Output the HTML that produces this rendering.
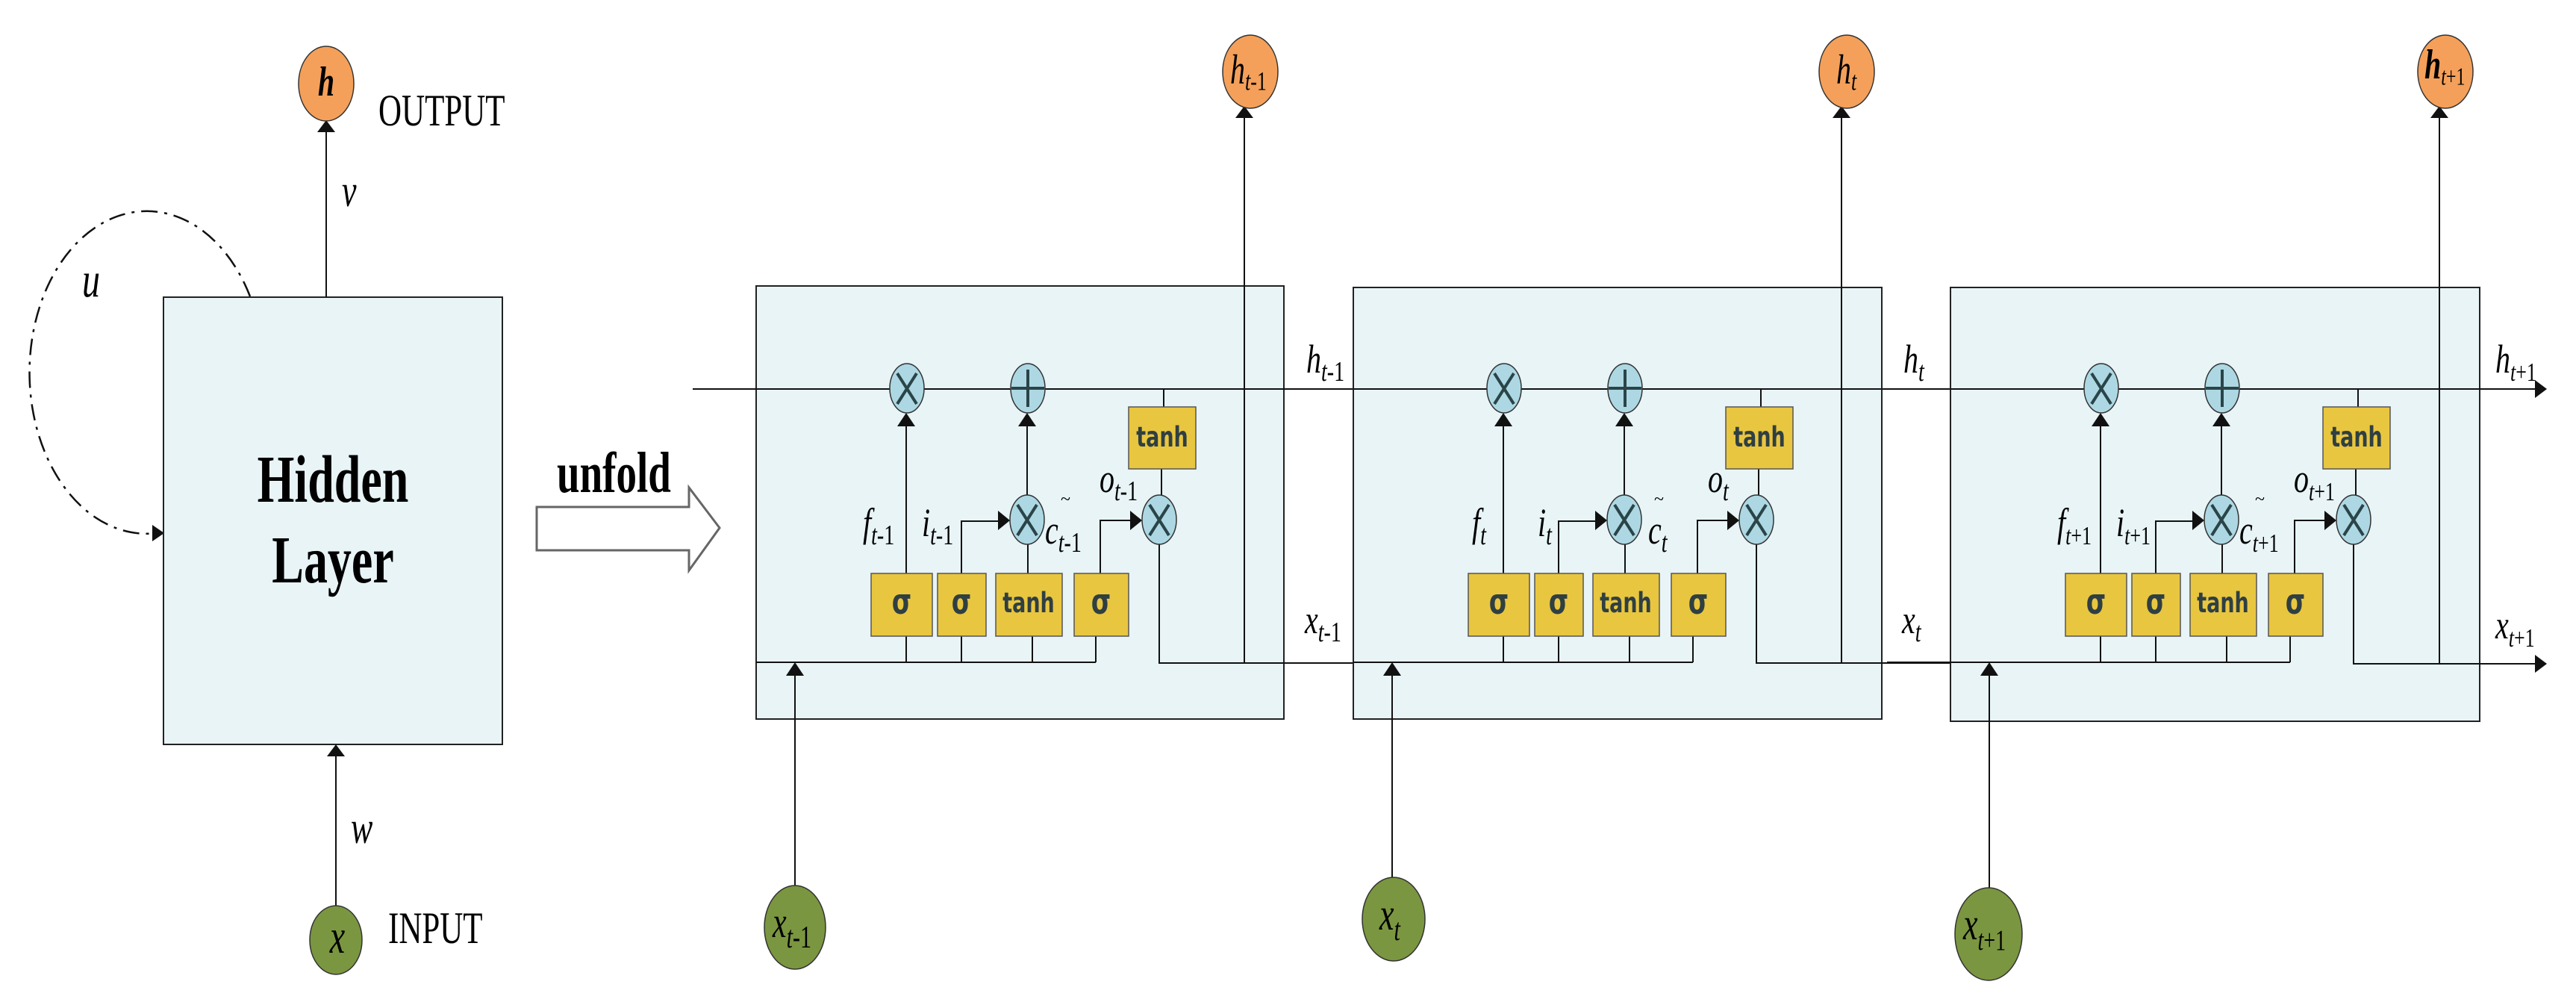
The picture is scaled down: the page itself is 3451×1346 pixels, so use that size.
<!DOCTYPE html>
<html><head><meta charset="utf-8"><style>
html,body{margin:0;padding:0;background:#fff;}
svg{display:block;}
.it{font-family:"Liberation Serif",serif;font-style:italic;}
.rm{font-family:"Liberation Serif",serif;}
.bd{font-family:"Liberation Serif",serif;font-weight:bold;}
.sg{font-family:"DejaVu Sans","Liberation Sans",sans-serif;font-weight:bold;fill:#2f3f42;}
</style></head><body>
<svg width="3451" height="1346" viewBox="0 0 3451 1346" xmlns="http://www.w3.org/2000/svg">
<!-- LEFT RNN -->
<path d="M335,397 A157,216 0 1 0 210,714" fill="none" stroke="#111" stroke-width="2.5" stroke-dasharray="22,9,4,9"/>
<polygon points="220,714 204,703 204,725" fill="#111"/>
<rect x="219" y="398" width="454" height="599" fill="#E8F4F6" stroke="#222" stroke-width="2"/>
<line x1="437" y1="176" x2="437" y2="398" stroke="#111" stroke-width="2"/>
<polygon points="437,161 425,177 449,177" fill="#111"/>
<ellipse cx="437" cy="112" rx="37" ry="50" fill="#F4A05A" stroke="#333" stroke-width="1.5"/>
<text class="it" font-weight="bold" font-size="40" text-anchor="middle" transform="translate(437,128) scale(1,1.4)">h</text>
<text class="rm" font-size="43" transform="translate(507,168) scale(1,1.4)">OUTPUT</text>
<text class="it" font-size="44" transform="translate(458,276) scale(1,1.4)">v</text>
<text class="it" font-size="48" transform="translate(110,397) scale(1,1.4)">u</text>
<text class="bd" font-size="64" text-anchor="middle" transform="translate(446,672) scale(1,1.4)">Hidden</text>
<text class="bd" font-size="64" text-anchor="middle" transform="translate(446,780) scale(1,1.4)">Layer</text>
<line x1="450" y1="1013" x2="450" y2="1213" stroke="#111" stroke-width="2"/>
<polygon points="450,997 438,1013 462,1013" fill="#111"/>
<ellipse cx="450" cy="1259" rx="35" ry="46" fill="#7A9640" stroke="#333" stroke-width="1.5"/>
<text class="it" font-size="46" text-anchor="middle" transform="translate(452,1276) scale(1,1.4)">x</text>
<text class="it" font-size="44" transform="translate(470,1129) scale(1,1.4)">w</text>
<text class="rm" font-size="43" transform="translate(520,1263) scale(1,1.4)">INPUT</text>
<text class="bd" font-size="55" transform="translate(746,659) scale(1,1.4)">unfold</text>
<polygon points="719,679 923,679 923,653 964,707 923,764 923,737 719,737" fill="#fff" stroke="#666" stroke-width="3"/>

<!-- global lines -->
<line x1="928" y1="521" x2="3398" y2="521" stroke="#111" stroke-width="2"/>
<polygon points="3412,521 3396,509 3396,533" fill="#111"/>
<polygon points="3412,889 3396,877 3396,901" fill="#111"/>

<!-- CELLS -->
<g id="c1">
<rect x="1013" y="383" width="707" height="580" fill="#E8F4F6" stroke="#222" stroke-width="2"/>
<line x1="928" y1="521" x2="2520" y2="521" stroke="#111" stroke-width="2"/>
<g stroke="#111" stroke-width="2" fill="none">
<path d="M1214,852V887M1214,768V570"/>
<path d="M1288,852V887M1288,768V698H1338"/>
<path d="M1383,852V887M1377,768V729"/>
<path d="M1376,663V570"/>
<path d="M1468,852V887M1474,768V697H1516"/>
<path d="M1013,887H1468"/>
<path d="M1559,521V545M1556,628V663"/>
<path d="M1553,729V888H1813"/>
<path d="M1667,888V156"/>
<path d="M1065,1186V903"/>
</g>
<g fill="#111">
<polygon points="1214,553 1202,571 1226,571"/>
<polygon points="1376,553 1364,571 1388,571"/>
<polygon points="1353,697 1337,684 1337,710"/>
<polygon points="1530,697 1514,684 1514,710"/>
<polygon points="1667,142 1655,158 1679,158"/>
<polygon points="1065,887 1053,905 1077,905"/>
</g>
<g fill="#ADD8E3" stroke="#333" stroke-width="1.5">
<ellipse cx="1215" cy="520" rx="23" ry="33"/><ellipse cx="1377" cy="520" rx="23" ry="33"/>
<ellipse cx="1376" cy="696" rx="23" ry="33"/><ellipse cx="1553" cy="696" rx="23" ry="33"/>
</g>
<g stroke="#2a4448" stroke-width="4">
<path d="M1202,500L1228,541M1228,500L1202,541"/>
<path d="M1377,495V545M1355,520H1399"/>
<path d="M1363,676L1389,717M1389,676L1363,717"/>
<path d="M1540,676L1566,717M1566,676L1540,717"/>
</g>
<g fill="#E8C640" stroke="#555" stroke-width="1.5">
<rect x="1512" y="545" width="90" height="83"/>
<rect x="1167" y="768" width="82" height="84"/><rect x="1256" y="768" width="65" height="84"/>
<rect x="1334" y="768" width="89" height="84"/><rect x="1439" y="768" width="73" height="84"/>
</g>
<text class="sg" font-size="27" text-anchor="middle" transform="translate(1557,598) scale(1,1.4)">tanh</text>
<text class="sg" font-size="34" text-anchor="middle" transform="translate(1208,822) scale(1,1.4)">σ</text>
<text class="sg" font-size="34" text-anchor="middle" transform="translate(1288,822) scale(1,1.4)">σ</text>
<text class="sg" font-size="27" text-anchor="middle" transform="translate(1378,820) scale(1,1.4)">tanh</text>
<text class="sg" font-size="34" text-anchor="middle" transform="translate(1475,822) scale(1,1.4)">σ</text>
<ellipse cx="1675" cy="96" rx="37" ry="49" fill="#F4A05A" stroke="#333" stroke-width="1.5"/>
<text class="it" transform="translate(1648,112) scale(1,1.4)"><tspan font-size="40">h</tspan><tspan font-size="26" dy="6">t</tspan><tspan class="rm" font-style="normal" font-size="26">-1</tspan></text>
<ellipse cx="1065" cy="1242" rx="41" ry="56" fill="#7A9640" stroke="#333" stroke-width="1.5"/>
<text class="it" transform="translate(1035,1255) scale(1,1.4)"><tspan font-size="42">x</tspan><tspan font-size="30" dy="10">t</tspan><tspan class="rm" font-style="normal" font-size="30">-1</tspan></text>
<text class="it" transform="translate(1750,499) scale(1,1.35)"><tspan font-size="40">h</tspan><tspan font-size="28" dy="8">t</tspan><tspan class="rm" font-style="normal" font-size="28">-1</tspan></text>
<text class="it" transform="translate(1748,848) scale(1,1.35)"><tspan font-size="40">x</tspan><tspan font-size="28" dy="8">t</tspan><tspan class="rm" font-style="normal" font-size="28">-1</tspan></text>
<text class="it" transform="translate(1156,718) scale(1,1.35)"><tspan font-size="40">f</tspan><tspan font-size="28" dy="8">t</tspan><tspan class="rm" font-style="normal" font-size="28">-1</tspan></text>
<text class="it" transform="translate(1235,718) scale(1,1.35)"><tspan font-size="40">i</tspan><tspan font-size="28" dy="8">t</tspan><tspan class="rm" font-style="normal" font-size="28">-1</tspan></text>
<text class="it" transform="translate(1400,728) scale(1,1.35)"><tspan font-size="40">c</tspan><tspan font-size="28" dy="8">t</tspan><tspan class="rm" font-style="normal" font-size="28">-1</tspan></text>
<text class="rm" font-size="24" transform="translate(1421,676)">~</text>
<text class="it" transform="translate(1473,659) scale(1,1.35)"><tspan font-size="40">o</tspan><tspan font-size="28" dy="8">t</tspan><tspan class="rm" font-style="normal" font-size="28">-1</tspan></text>
</g>

<g transform="translate(800,0)">
<rect x="1013" y="385" width="708" height="578" fill="#E8F4F6" stroke="#222" stroke-width="2"/>
<line x1="1013" y1="521" x2="1720" y2="521" stroke="#111" stroke-width="2"/>
<g stroke="#111" stroke-width="2" fill="none">
<path d="M1214,852V887M1214,768V570"/>
<path d="M1288,852V887M1288,768V698H1338"/>
<path d="M1383,852V887M1377,768V729"/>
<path d="M1376,663V570"/>
<path d="M1468,852V887M1474,768V697H1516"/>
<path d="M1013,887H1468"/>
<path d="M1559,521V545M1556,628V663"/>
<path d="M1553,729V888H1813"/>
<path d="M1667,888V156"/>
<path d="M1065,1175V903"/>
</g>
<g fill="#111">
<polygon points="1214,553 1202,571 1226,571"/>
<polygon points="1376,553 1364,571 1388,571"/>
<polygon points="1353,697 1337,684 1337,710"/>
<polygon points="1530,697 1514,684 1514,710"/>
<polygon points="1667,142 1655,158 1679,158"/>
<polygon points="1065,887 1053,905 1077,905"/>
</g>
<g fill="#ADD8E3" stroke="#333" stroke-width="1.5">
<ellipse cx="1215" cy="520" rx="23" ry="33"/><ellipse cx="1377" cy="520" rx="23" ry="33"/>
<ellipse cx="1376" cy="696" rx="23" ry="33"/><ellipse cx="1553" cy="696" rx="23" ry="33"/>
</g>
<g stroke="#2a4448" stroke-width="4">
<path d="M1202,500L1228,541M1228,500L1202,541"/>
<path d="M1377,495V545M1355,520H1399"/>
<path d="M1363,676L1389,717M1389,676L1363,717"/>
<path d="M1540,676L1566,717M1566,676L1540,717"/>
</g>
<g fill="#E8C640" stroke="#555" stroke-width="1.5">
<rect x="1512" y="545" width="90" height="83"/>
<rect x="1167" y="768" width="82" height="84"/><rect x="1256" y="768" width="65" height="84"/>
<rect x="1334" y="768" width="89" height="84"/><rect x="1439" y="768" width="73" height="84"/>
</g>
<text class="sg" font-size="27" text-anchor="middle" transform="translate(1557,598) scale(1,1.4)">tanh</text>
<text class="sg" font-size="34" text-anchor="middle" transform="translate(1208,822) scale(1,1.4)">σ</text>
<text class="sg" font-size="34" text-anchor="middle" transform="translate(1288,822) scale(1,1.4)">σ</text>
<text class="sg" font-size="27" text-anchor="middle" transform="translate(1378,820) scale(1,1.4)">tanh</text>
<text class="sg" font-size="34" text-anchor="middle" transform="translate(1475,822) scale(1,1.4)">σ</text>
<ellipse cx="1674" cy="96" rx="37" ry="49" fill="#F4A05A" stroke="#333" stroke-width="1.5"/>
<text class="it" transform="translate(1660,112) scale(1,1.4)"><tspan font-size="40">h</tspan><tspan font-size="26" dy="6">t</tspan></text>
<ellipse cx="1067" cy="1231" rx="42" ry="56" fill="#7A9640" stroke="#333" stroke-width="1.5"/>
<text class="it" transform="translate(1048,1245) scale(1,1.4)"><tspan font-size="44">x</tspan><tspan font-size="30" dy="10">t</tspan></text>
<text class="it" transform="translate(1750,499) scale(1,1.35)"><tspan font-size="40">h</tspan><tspan font-size="28" dy="8">t</tspan></text>
<text class="it" transform="translate(1748,848) scale(1,1.35)"><tspan font-size="40">x</tspan><tspan font-size="28" dy="8">t</tspan></text>
<text class="it" transform="translate(1172,718) scale(1,1.35)"><tspan font-size="40">f</tspan><tspan font-size="28" dy="8">t</tspan></text>
<text class="it" transform="translate(1260,718) scale(1,1.35)"><tspan font-size="40">i</tspan><tspan font-size="28" dy="8">t</tspan></text>
<text class="it" transform="translate(1408,728) scale(1,1.35)"><tspan font-size="40">c</tspan><tspan font-size="28" dy="8">t</tspan></text>
<text class="rm" font-size="24" transform="translate(1416,676)">~</text>
<text class="it" transform="translate(1488,659) scale(1,1.35)"><tspan font-size="40">o</tspan><tspan font-size="28" dy="8">t</tspan></text>
</g>

<g transform="translate(1600,0)">
<rect x="1013" y="385" width="709" height="581" fill="#E8F4F6" stroke="#222" stroke-width="2"/>
<line x1="1013" y1="521" x2="1798" y2="521" stroke="#111" stroke-width="2"/>
<g stroke="#111" stroke-width="2" fill="none">
<path d="M1214,852V887M1214,768V570"/>
<path d="M1288,852V887M1288,768V698H1338"/>
<path d="M1383,852V887M1377,768V729"/>
<path d="M1376,663V570"/>
<path d="M1468,852V887M1474,768V697H1516"/>
<path d="M1013,887H1468"/>
<path d="M1559,521V545M1556,628V663"/>
<path d="M1553,729V889H1798"/>
<path d="M1668,888V156"/>
<path d="M1065,1189V903"/>
<path d="M928,887H1013"/>
</g>
<g fill="#111">
<polygon points="1214,553 1202,571 1226,571"/>
<polygon points="1376,553 1364,571 1388,571"/>
<polygon points="1353,697 1337,684 1337,710"/>
<polygon points="1530,697 1514,684 1514,710"/>
<polygon points="1668,142 1656,158 1680,158"/>
<polygon points="1065,887 1053,905 1077,905"/>
</g>
<g fill="#ADD8E3" stroke="#333" stroke-width="1.5">
<ellipse cx="1215" cy="520" rx="23" ry="33"/><ellipse cx="1377" cy="520" rx="23" ry="33"/>
<ellipse cx="1376" cy="696" rx="23" ry="33"/><ellipse cx="1553" cy="696" rx="23" ry="33"/>
</g>
<g stroke="#2a4448" stroke-width="4">
<path d="M1202,500L1228,541M1228,500L1202,541"/>
<path d="M1377,495V545M1355,520H1399"/>
<path d="M1363,676L1389,717M1389,676L1363,717"/>
<path d="M1540,676L1566,717M1566,676L1540,717"/>
</g>
<g fill="#E8C640" stroke="#555" stroke-width="1.5">
<rect x="1512" y="545" width="90" height="83"/>
<rect x="1167" y="768" width="82" height="84"/><rect x="1256" y="768" width="65" height="84"/>
<rect x="1334" y="768" width="89" height="84"/><rect x="1439" y="768" width="73" height="84"/>
</g>
<text class="sg" font-size="27" text-anchor="middle" transform="translate(1557,598) scale(1,1.4)">tanh</text>
<text class="sg" font-size="34" text-anchor="middle" transform="translate(1208,822) scale(1,1.4)">σ</text>
<text class="sg" font-size="34" text-anchor="middle" transform="translate(1288,822) scale(1,1.4)">σ</text>
<text class="sg" font-size="27" text-anchor="middle" transform="translate(1378,820) scale(1,1.4)">tanh</text>
<text class="sg" font-size="34" text-anchor="middle" transform="translate(1475,822) scale(1,1.4)">σ</text>
<ellipse cx="1676" cy="96" rx="37" ry="49" fill="#F4A05A" stroke="#333" stroke-width="1.5"/>
<text class="it" transform="translate(1648,105) scale(1,1.4)"><tspan font-size="40" font-weight="bold">h</tspan><tspan font-size="24" dy="6">t</tspan><tspan class="rm" font-style="normal" font-size="24">+1</tspan></text>
<ellipse cx="1064" cy="1251" rx="45" ry="62" fill="#7A9640" stroke="#333" stroke-width="1.5"/>
<text class="it" transform="translate(1030,1258) scale(1,1.4)"><tspan font-size="44">x</tspan><tspan font-size="28" dy="10">t</tspan><tspan class="rm" font-style="normal" font-size="28">+1</tspan></text>
<text class="it" transform="translate(1743,499) scale(1,1.35)"><tspan font-size="40">h</tspan><tspan font-size="26" dy="8">t</tspan><tspan class="rm" font-style="normal" font-size="26">+1</tspan></text>
<text class="it" transform="translate(1743,855) scale(1,1.35)"><tspan font-size="40">x</tspan><tspan font-size="26" dy="8">t</tspan><tspan class="rm" font-style="normal" font-size="26">+1</tspan></text>
<text class="it" transform="translate(1156,718) scale(1,1.35)"><tspan font-size="40">f</tspan><tspan font-size="26" dy="8">t</tspan><tspan class="rm" font-style="normal" font-size="26">+1</tspan></text>
<text class="it" transform="translate(1235,718) scale(1,1.35)"><tspan font-size="40">i</tspan><tspan font-size="26" dy="8">t</tspan><tspan class="rm" font-style="normal" font-size="26">+1</tspan></text>
<text class="it" transform="translate(1400,728) scale(1,1.35)"><tspan font-size="40">c</tspan><tspan font-size="26" dy="8">t</tspan><tspan class="rm" font-style="normal" font-size="26">+1</tspan></text>
<text class="rm" font-size="24" transform="translate(1421,676)">~</text>
<text class="it" transform="translate(1473,659) scale(1,1.35)"><tspan font-size="40">o</tspan><tspan font-size="26" dy="8">t</tspan><tspan class="rm" font-style="normal" font-size="26">+1</tspan></text>
</g>
</svg>
</body></html>
